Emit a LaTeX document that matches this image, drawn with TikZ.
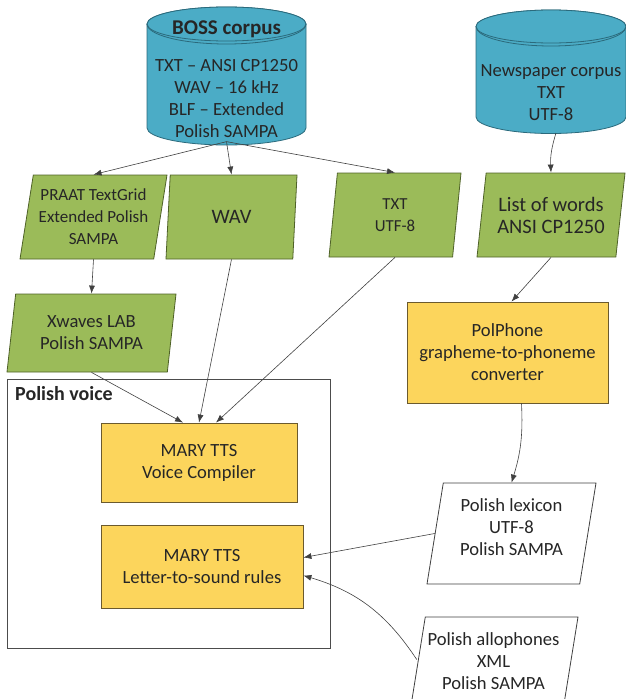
\documentclass[tikz,border=0pt]{standalone}
\usepackage{fontspec}
\setmainfont{Carlito}
\usetikzlibrary{arrows.meta,shapes.geometric}
\definecolor{tankfill}{HTML}{4BACC6}
\definecolor{tankline}{HTML}{2B6A7C}
\definecolor{datafill}{HTML}{9BBB59}
\definecolor{dataline}{HTML}{4F6228}
\definecolor{procfill}{HTML}{FCD55C}
\definecolor{procline}{HTML}{6B5A2E}
\newcommand{\fs}[1]{\fontsize{#1}{22}\selectfont}

\begin{document}
\begin{tikzpicture}[
    x=1pt, y=-1pt,
    every node/.style={font=\fs{18.6}, align=center, text=black!85},
    tank/.style={fill=tankfill, draw=tankline, line width=0.8pt},
    data/.style={trapezium, trapezium left angle=78, trapezium right angle=102,
        trapezium stretches body, inner xsep=1pt, draw=dataline, fill=datafill,
        line width=0.8pt, minimum height=84pt},
    plain/.style={data, draw=black!75, fill=white, minimum height=101pt, minimum width=169pt, text depth=13pt},
    proc/.style={rectangle, draw=procline, fill=procfill, line width=0.8pt},
    arrow/.style={-{Latex[length=8pt,width=6pt]}, draw=black!75, line width=0.6pt}
]
    \useasboundingbox (0,0) rectangle (626,699);
    \clip (0,0) rectangle (626,699);

    % corpora
    \path[tank] (147,24) -- (147,128) arc[start angle=180, end angle=360, x radius=79.5pt, y radius=17pt]
        -- (306,24) arc[start angle=0, end angle=180, x radius=79.5pt, y radius=17pt] -- cycle;
    \draw[tank] (226.5,24) ellipse [x radius=79.5pt, y radius=17pt];
    \draw[tankline, line width=0.8pt] (147,24) arc[start angle=180, end angle=360, x radius=79.5pt, y radius=20pt];
    \node[font=\fs{21}] (bosstitle) at (226.5,29) {\textbf{BOSS corpus}};
    \node (boss) at (226.5,99) {TXT -- ANSI CP1250\\WAV -- 16 kHz\\BLF -- Extended\\Polish SAMPA};

    \path[tank] (476,26.5) -- (476,117) arc[start angle=180, end angle=360, x radius=75pt, y radius=16.5pt]
        -- (626,26.5) arc[start angle=0, end angle=180, x radius=75pt, y radius=16.5pt] -- cycle;
    \draw[tank] (551,26.5) ellipse [x radius=75pt, y radius=16.5pt];
    \draw[tankline, line width=0.8pt] (476,26.5) arc[start angle=180, end angle=360, x radius=75pt, y radius=19.5pt];
    \node (news) at (551,93) {Newspaper corpus\\TXT\\UTF-8};
    \coordinate (newsbot) at (556,133);

    % derived data
    \node[data, minimum width=147pt, font=\fs{17}] (praat) at (93.5,217) {PRAAT TextGrid\\Extended Polish\\SAMPA};
    \node[data, minimum width=131pt, font=\fs{20.5}] (wav) at (231.5,217) {WAV};
    \node[data, minimum width=132pt, font=\fs{16.8}] (txt) at (395,215) {TXT\\UTF-8};
    \node[data, minimum width=148pt, font=\fs{20.5}, inner xsep=0pt] (words) at (551,215) {List of words\\ANSI CP1250};
    \node[data, minimum width=169pt, minimum height=78pt] (xwaves) at (91.5,333) {Xwaves LAB\\Polish SAMPA};

    % voice
    \node[draw=black!70, line width=0.8pt, minimum width=323pt, minimum height=269pt] (voice) at (168.5,513.5) {};
    \node[anchor=north west, inner sep=0pt, font=\fs{20}] (voicelabel) at (15,386) {\textbf{Polish voice}};
    \node[proc, minimum width=196pt, minimum height=79pt] (compiler) at (199,462.5) {MARY TTS\\Voice Compiler};
    \node[proc, minimum width=202pt, minimum height=83pt] (lts) at (202,566.5) {MARY TTS\\Letter-to-sound rules};

    \node[proc, minimum width=201pt, minimum height=101pt] (polphone) at (507.5,352.5) {PolPhone\\grapheme-to-phoneme\\converter};
    \node[plain] (lexicon) at (511.5,533.5) {Polish lexicon\\UTF-8\\Polish SAMPA};
    \node[plain] (allophones) at (493.5,667.5) {Polish allophones\\XML\\Polish SAMPA};

    \draw[arrow] (boss.south) -- (praat.north);
    \draw[arrow] (boss.south) -- (wav.north);
    \draw[arrow] (boss.south) -- (txt.north);
    \draw[arrow] (newsbot) to[bend right=10] (words.north);
    \draw[arrow] (praat.south) -- (xwaves.north);
    \draw[arrow] (xwaves.south) -- ([xshift=-16pt]compiler.north);
    \draw[arrow] (wav.south) -- (compiler.north);
    \draw[arrow] (txt.south) -- ([xshift=17pt]compiler.north);
    \draw[arrow] (words.south) -- ([xshift=4pt]polphone.north);
    \draw[arrow] ([xshift=14pt]polphone.south) to[bend left=10] (lexicon.north);
    \draw[arrow] (lexicon.west) -- ([yshift=9pt]lts.east);
    \draw[arrow] ([yshift=8pt]allophones.west) to[bend right=20] ([yshift=-9pt]lts.east);
\end{tikzpicture}
\end{document}
